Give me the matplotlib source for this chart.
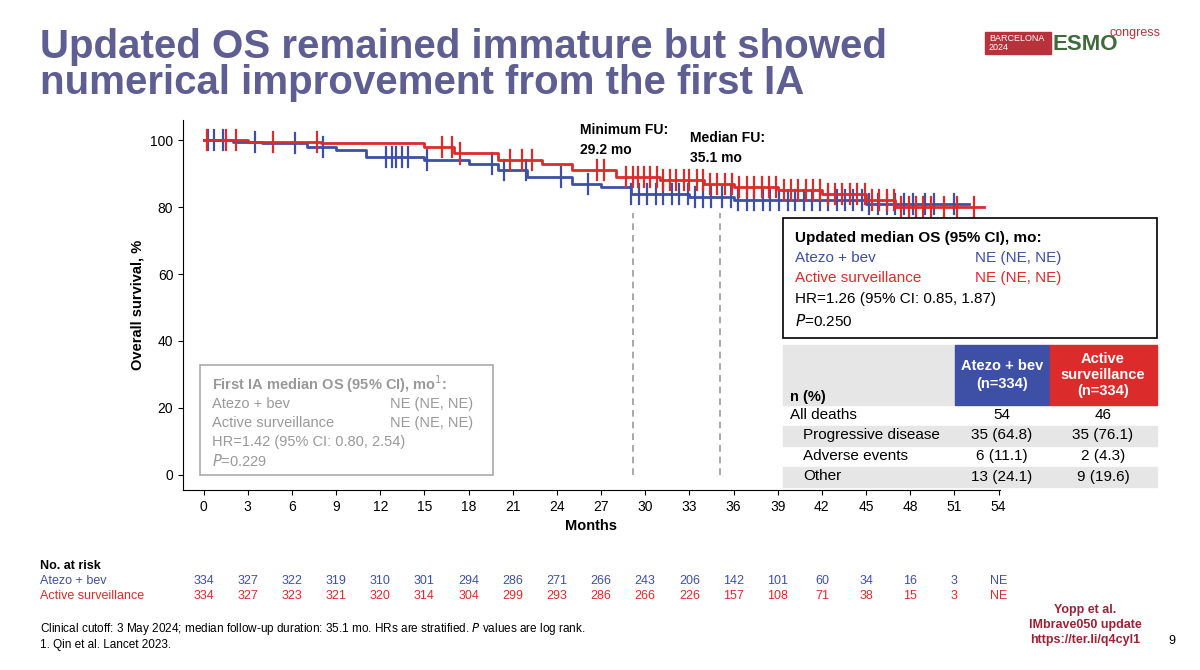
#!/usr/bin/env python3
import matplotlib.pyplot as plt
from matplotlib.patches import Rectangle

plt.rcParams["font.family"] = ["Liberation Sans", "DejaVu Sans"]

BLUE = "#3d50a5"
RED = "#dc2b2b"
TITLE_COLOR = "#5e5e92"

# step curves: (month, survival %)
atezo_t = [0, 2, 4, 7, 9, 11, 15, 18, 20, 22, 25, 27, 29, 33, 36, 45, 52]
atezo_s = [100, 99.5, 99, 98, 97, 95, 94, 93, 91, 89, 87, 86, 84, 83, 82, 81, 81]
active_t = [0, 3, 8, 15, 17, 20, 23, 25, 28, 31, 34, 36, 39, 42, 45, 47, 53]
active_s = [100, 99.5, 99, 98, 96, 94, 93, 91, 89, 88, 87, 86, 85, 84, 82, 80, 80]

# censoring marks (months)
atezo_cens = [0.3, 0.7, 1.3, 3.5, 6.2, 8.1, 12.4, 12.8, 13.1, 13.5, 13.9, 15.2, 19.6, 20.4, 21.9,
              24.3, 26.1, 29.0, 29.6, 30.1, 30.7, 31.2, 31.8, 32.3, 32.9, 33.4, 33.9, 34.5,
              35.2, 35.8, 36.3, 36.9, 37.4, 38.0, 38.5, 39.1, 39.7, 40.2, 40.8, 41.3, 41.9,
              42.4, 43.0, 43.6, 44.1, 44.7, 45.2, 45.8, 46.4, 47.0, 47.6, 48.2, 49.0, 49.6, 51.0]
active_cens = [0.2, 1.5, 2.2, 4.7, 7.7, 16.2, 16.9, 17.4, 20.8, 21.6, 22.3, 26.7, 27.2, 28.7,
               29.2, 29.5, 29.9, 30.3, 30.8, 31.2, 31.7, 32.1, 32.6, 33.0, 33.5, 33.9, 34.4,
               34.9, 35.4, 35.9, 36.4, 36.9, 37.4, 37.9, 38.4, 38.9, 39.4, 39.9, 40.4, 40.9,
               41.4, 41.9, 42.4, 42.9, 43.4, 43.9, 44.4, 44.9, 45.4, 45.9, 46.4, 46.9, 47.4,
               47.9, 48.4, 48.9, 49.4, 50.3, 51.2, 52.3]

x_ticks = list(range(0, 55, 3))
y_ticks = [0, 20, 40, 60, 80, 100]
risk_atezo = ["334", "327", "322", "319", "310", "301", "294", "286", "271", "266", "243",
              "206", "142", "101", "60", "34", "16", "3", "NE"]
risk_active = ["334", "327", "323", "321", "320", "314", "304", "299", "293", "286", "266",
               "226", "157", "108", "71", "38", "15", "3", "NE"]

table_rows = ["All deaths", "Progressive disease", "Adverse events", "Other"]
table_atezo = ["54", "35 (64.8)", "6 (11.1)", "13 (24.1)"]
table_active = ["46", "35 (76.1)", "2 (4.3)", "9 (19.6)"]


def px(x, y):
    """Pixel position on the 1200x670 slide to figure fraction."""
    return x / 1200, 1 - y / 670


def level_at(times, surv, t):
    val = surv[0]
    for ti, si in zip(times, surv):
        if ti <= t:
            val = si
    return val


def draw_curves(ax):
    ax.step(atezo_t, atezo_s, where="post", color=BLUE, lw=2, zorder=3)
    ax.step(active_t, active_s, where="post", color=RED, lw=2, zorder=4)
    for t in atezo_cens:
        y = level_at(atezo_t, atezo_s, t)
        ax.plot([t, t], [y - 3, y + 3], color=BLUE, lw=1.6, zorder=3)
    for t in active_cens:
        y = level_at(active_t, active_s, t)
        ax.plot([t, t], [y - 3, y + 3], color=RED, lw=1.6, zorder=4)
    for t in (29.2, 35.1):
        ax.axvline(t, ymin=0.04, ymax=0.75, color="#999999", ls=(0, (4, 3)), lw=1.2)

    ax.set_xlim(-1.4, 54.1)
    ax.set_ylim(-4.5, 106)
    ax.set_xticks(x_ticks)
    ax.set_yticks(y_ticks)
    ax.tick_params(labelsize=10)
    for s in ("top", "right"):
        ax.spines[s].set_visible(False)
    ax.set_xlabel("Months", fontsize=10.5, fontweight="bold")
    ax.set_ylabel("Overall survival, %", fontsize=10.5, fontweight="bold")


def draw_text(fig):
    fig.text(*px(40, 28), "Updated OS remained immature but showed\nnumerical improvement from the first IA",
             fontsize=29, fontweight="bold", color=TITLE_COLOR, va="top", linespacing=0.95)
    # logo
    fig.patches.append(Rectangle(px(985, 54), 66 / 1200, 22 / 670, transform=fig.transFigure,
                                 color="#b8323b"))
    fig.text(*px(989, 43), "BARCELONA\n2024", fontsize=6.5, color="white", va="center", linespacing=0.9)
    fig.text(*px(1052, 44), "ESMO", fontsize=16, fontweight="bold", color="#3e6b3a", va="center")
    fig.text(*px(1110, 33), "congress", fontsize=9, color="#b8323b", va="center")

    fig.text(*px(580, 140), "Minimum FU:\n29.2 mo", fontsize=10, fontweight="bold", va="center",
             linespacing=1.5)
    fig.text(*px(690, 148), "Median FU:\n35.1 mo", fontsize=10, fontweight="bold", va="center",
             linespacing=1.5)

    # updated median OS box
    fig.patches.append(Rectangle(px(783, 338), 374 / 1200, 120 / 670, transform=fig.transFigure,
                                 fill=False, ec="black", lw=1.2))
    fig.text(*px(795, 238), "Updated median OS (95% CI), mo:", fontsize=11, fontweight="bold", va="center")
    fig.text(*px(795, 258), "Atezo + bev", fontsize=11, color=BLUE, va="center")
    fig.text(*px(975, 258), "NE (NE, NE)", fontsize=11, color=BLUE, va="center")
    fig.text(*px(795, 278), "Active surveillance", fontsize=11, color=RED, va="center")
    fig.text(*px(975, 278), "NE (NE, NE)", fontsize=11, color=RED, va="center")
    fig.text(*px(795, 299), "HR=1.26 (95% CI: 0.85, 1.87)", fontsize=11, va="center")
    fig.text(*px(795, 321), "$P$=0.250", fontsize=11, va="center")

    # first IA box
    grey = "#999999"
    fig.patches.append(Rectangle(px(200, 475), 293 / 1200, 110 / 670, transform=fig.transFigure,
                                 fill=False, ec="#aaaaaa", lw=1.2))
    fig.text(*px(212, 384), "First IA median OS (95% CI), mo$^1$:", fontsize=10.5, fontweight="bold",
             color=grey, va="center")
    lines = [("Atezo + bev", "NE (NE, NE)"), ("Active surveillance", "NE (NE, NE)")]
    for i, (a, b) in enumerate(lines):
        fig.text(*px(212, 404 + 19 * i), a, fontsize=10.5, color=grey, va="center")
        fig.text(*px(390, 404 + 19 * i), b, fontsize=10.5, color=grey, va="center")
    fig.text(*px(212, 442), "HR=1.42 (95% CI: 0.80, 2.54)", fontsize=10.5, color=grey, va="center")
    fig.text(*px(212, 461), "$P$=0.229", fontsize=10.5, color=grey, va="center")

    # deaths table
    fig.patches.append(Rectangle(px(783, 405), 172 / 1200, 60 / 670, transform=fig.transFigure,
                                 color="#e6e6e6"))
    fig.patches.append(Rectangle(px(955, 405), 95 / 1200, 60 / 670, transform=fig.transFigure,
                                 color=BLUE))
    fig.patches.append(Rectangle(px(1050, 405), 107 / 1200, 60 / 670, transform=fig.transFigure,
                                 color=RED))
    fig.text(*px(1002, 375), "Atezo + bev\n(n=334)", fontsize=10.5, fontweight="bold", color="white",
             ha="center", va="center", linespacing=1.3)
    fig.text(*px(1103, 375), "Active\nsurveillance\n(n=334)", fontsize=10.5, fontweight="bold",
             color="white", ha="center", va="center", linespacing=1.2)
    fig.text(*px(790, 397), "n (%)", fontsize=10.5, fontweight="bold", va="center")
    for i, (lab, a, b) in enumerate(zip(table_rows, table_atezo, table_active)):
        y = 415 + 20.5 * i
        if i % 2 == 1:
            fig.patches.append(Rectangle(px(783, y + 10), 374 / 1200, 20 / 670, transform=fig.transFigure,
                                         color="#e6e6e6"))
        fig.text(*px(790 if i == 0 else 803, y), lab, fontsize=11, va="center")
        fig.text(*px(1002, y), a, fontsize=11, ha="center", va="center")
        fig.text(*px(1103, y), b, fontsize=11, ha="center", va="center")

    # number at risk
    fig.text(*px(40, 566), "No. at risk", fontsize=9, fontweight="bold", va="center")
    fig.text(*px(40, 581), "Atezo + bev", fontsize=9, color=BLUE, va="center")
    fig.text(*px(40, 596), "Active surveillance", fontsize=9, color=RED, va="center")

    fig.text(*px(40, 629), "Clinical cutoff: 3 May 2024; median follow-up duration: 35.1 mo. "
             "HRs are stratified. $P$ values are log rank.", fontsize=8.5, va="center")
    fig.text(*px(40, 645), "1. Qin et al. Lancet 2023.", fontsize=8.5, va="center")
    fig.text(*px(1085, 625), "Yopp et al.\nIMbrave050 update\nhttps://ter.li/q4cyl1", fontsize=9,
             fontweight="bold", color="#9b2335", ha="center", va="center", linespacing=1.3)
    fig.text(*px(1168, 641), "9", fontsize=9, va="center")


def draw_risk(fig, ax):
    for i, m in enumerate(x_ticks):
        xf = fig.transFigure.inverted().transform(ax.transData.transform((m, 0)))[0]
        fig.text(xf, px(0, 581)[1], risk_atezo[i], fontsize=9, color=BLUE, ha="center", va="center")
        fig.text(xf, px(0, 596)[1], risk_active[i], fontsize=9, color=RED, ha="center", va="center")


def main() -> None:
    fig = plt.figure(figsize=(12, 6.7), dpi=100)
    ax = fig.add_axes([183 / 1200, 1 - 490 / 670, 817 / 1200, 370 / 670])
    draw_curves(ax)
    draw_text(fig)
    draw_risk(fig, ax)
    fig.savefig("out.png", dpi=100)
    plt.close(fig)


if __name__ == "__main__":
    main()
